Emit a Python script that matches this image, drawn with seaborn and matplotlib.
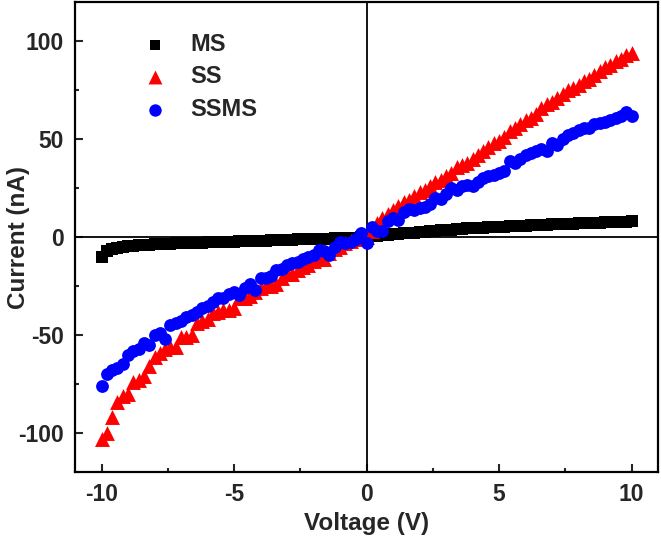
import numpy as np
import pandas as pd
import matplotlib
matplotlib.use('Agg')
import matplotlib.pyplot as plt
from matplotlib.ticker import MultipleLocator
import seaborn as sns

# voltage sweep, 0.2 V steps
voltage = [-10.0, -9.8, -9.6, -9.4, -9.2, -9.0, -8.8, -8.6, -8.4, -8.2,
           -8.0, -7.8, -7.6, -7.4, -7.2, -7.0, -6.8, -6.6, -6.4, -6.2,
           -6.0, -5.8, -5.6, -5.4, -5.2, -5.0, -4.8, -4.6, -4.4, -4.2,
           -4.0, -3.8, -3.6, -3.4, -3.2, -3.0, -2.8, -2.6, -2.4, -2.2,
           -2.0, -1.8, -1.6, -1.4, -1.2, -1.0, -0.8, -0.6, -0.4, -0.2,
           0.0, 0.2, 0.4, 0.6, 0.8, 1.0, 1.2, 1.4, 1.6, 1.8,
           2.0, 2.2, 2.4, 2.6, 2.8, 3.0, 3.2, 3.4, 3.6, 3.8,
           4.0, 4.2, 4.4, 4.6, 4.8, 5.0, 5.2, 5.4, 5.6, 5.8,
           6.0, 6.2, 6.4, 6.6, 6.8, 7.0, 7.2, 7.4, 7.6, 7.8,
           8.0, 8.2, 8.4, 8.6, 8.8, 9.0, 9.2, 9.4, 9.6, 9.8, 10.0]

ms = [-10.0, -7.2, -6.0, -5.4, -5.0, -4.7, -4.4, -4.1, -3.9, -3.8,
      -3.6, -3.5, -3.4, -3.3, -3.2, -3.1, -3.0, -2.9, -2.85, -2.8,
      -2.7, -2.6, -2.5, -2.45, -2.4, -2.3, -2.2, -2.1, -2.0, -1.95,
      -1.9, -1.8, -1.7, -1.6, -1.5, -1.4, -1.3, -1.2, -1.1, -1.0,
      -0.9, -0.8, -0.75, -0.7, -0.6, -0.4, -0.35, -0.3, -0.2, -0.1,
      0.2, 0.5, 0.7, 0.9, 1.0, 1.6, 1.8, 2.0, 2.1, 2.3,
      2.6, 2.8, 3.0, 3.2, 3.4, 3.7, 3.9, 4.1, 4.3, 4.5,
      4.7, 4.8, 4.9, 5.0, 5.1, 5.3, 5.4, 5.5, 5.6, 5.7,
      5.9, 6.0, 6.1, 6.2, 6.3, 6.5, 6.6, 6.7, 6.8, 6.9,
      7.0, 7.1, 7.2, 7.3, 7.4, 7.5, 7.6, 7.7, 7.8, 7.9, 8.0]

ss = [-103, -100, -92, -84, -81, -80, -74, -73, -71, -66,
      -61, -59, -57, -56, -56, -51, -51, -50, -44, -43,
      -42, -39, -38, -37, -37, -36, -31, -31, -30, -28,
      -26, -25, -25, -24, -21, -19, -19, -17, -15, -14,
      -12, -11, -11, -8, -6, -5, -3, -2, -1, -0.5,
      0, 3, 7, 10, 12, 14, 16, 18, 19, 21,
      23, 24, 26, 28, 29, 31, 33, 36, 37, 38,
      40, 42, 44, 46, 48, 49, 51, 54, 56, 58,
      60, 61, 63, 66, 68, 69, 71, 73, 75, 76,
      78, 80, 81, 83, 85, 87, 88, 90, 91, 93, 94]

ssms = [-76, -70, -68, -67, -65, -60, -58, -57, -54, -55,
        -50, -49, -52, -45, -44, -43, -41, -40, -38, -36,
        -35, -33, -31, -31, -29, -28, -29.6, -26, -24, -27,
        -21, -21, -20, -17, -16.5, -14, -13, -12.5, -11, -10,
        -9, -6.6, -7, -9, -5, -2.5, -3, -2.5, -1, 2,
        -3, 5, 3, 3, 8, 10, 9, 13, 14.5, 14,
        15, 15.5, 17, 20, 19.5, 22, 25, 24, 26, 26.5,
        26, 28, 30, 31, 32, 33, 34, 39, 38, 40,
        42, 43, 44, 45, 44, 48, 47, 50, 52, 53,
        55, 56, 56, 58, 58.5, 59, 60, 61, 62, 64, 62]

sns.set_style('ticks')
plt.rcParams['font.family'] = ['Liberation Sans', 'DejaVu Sans']
plt.rcParams['font.weight'] = 'bold'
plt.rcParams['axes.labelweight'] = 'bold'
plt.rcParams['axes.unicode_minus'] = False

df = pd.DataFrame({'Voltage': voltage, 'MS': ms, 'SS': ss, 'SSMS': ssms})

fig = plt.figure(figsize=(6.61, 5.38), dpi=100)
ax = fig.add_axes([0.1135, 0.1227, 0.882, 0.873])

ax.axhline(0, color='black', lw=1.3, zorder=1)
ax.axvline(0, color='black', lw=1.3, zorder=1)

sns.scatterplot(data=df, x='Voltage', y='MS', marker='s', color='black', s=68,
                linewidth=0, label='MS', ax=ax, zorder=2)
sns.scatterplot(data=df, x='Voltage', y='SS', marker='^', color='red', s=115,
                linewidth=0, label='SS', ax=ax, zorder=3)
sns.scatterplot(data=df, x='Voltage', y='SSMS', marker='o', color='blue', s=85,
                linewidth=0, label='SSMS', ax=ax, zorder=4)

ax.set_xlim(-11, 11)
ax.set_ylim(-120, 120)
ax.xaxis.set_major_locator(MultipleLocator(5))
ax.xaxis.set_minor_locator(MultipleLocator(2.5))
ax.yaxis.set_major_locator(MultipleLocator(50))
ax.yaxis.set_minor_locator(MultipleLocator(25))
ax.tick_params(which='both', direction='in', width=1.5, labelsize=16.5, pad=8)
ax.tick_params(which='major', length=6)
ax.tick_params(which='minor', length=3)
for lab in ax.get_xticklabels() + ax.get_yticklabels():
    lab.set_fontweight('bold')
for sp in ax.spines.values():
    sp.set_linewidth(1.6)
    sp.set_color('black')

ax.set_xlabel('Voltage (V)', fontsize=17.5, fontweight='bold', labelpad=4)
ax.set_ylabel('Current (nA)', fontsize=17.5, fontweight='bold')
ax.yaxis.set_label_coords(-0.078, 0.5)

leg = ax.legend(loc='upper left', bbox_to_anchor=(0.081, 0.955), frameon=False,
                prop={'size': 17, 'weight': 'bold'}, handletextpad=0.5,
                labelspacing=0.4, borderaxespad=0)
# legend markers a bit smaller than data marks, as in the figure
for h, sz in zip(leg.legend_handles, [52, 100, 80]):
    h.set_sizes([sz])

fig.savefig('out.png', dpi=100)
